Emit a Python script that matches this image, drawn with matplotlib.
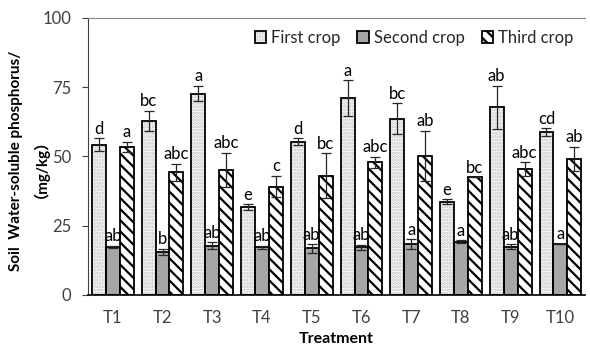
import matplotlib.pyplot as plt
import numpy as np

plt.rcParams['font.family'] = ['Lato', 'Noto Sans CJK SC', 'DejaVu Sans']
plt.rcParams['hatch.linewidth'] = 1.6

# データ
treatments = ['T1', 'T2', 'T3', 'T4', 'T5', 'T6', 'T7', 'T8', 'T9', 'T10']
first = [54.2, 62.8, 72.7, 31.7, 55.3, 71.0, 63.7, 33.7, 67.7, 58.7]
first_err = [2.4, 3.6, 2.8, 1.0, 1.2, 6.5, 5.5, 0.8, 7.8, 1.4]
second = [17.4, 15.6, 17.8, 17.2, 16.8, 17.2, 18.3, 19.2, 17.4, 18.4]
second_err = [0.3, 1.0, 1.2, 0.6, 1.5, 0.8, 1.8, 0.5, 0.9, 0.1]
third = [53.5, 44.3, 45.1, 39.1, 43.1, 47.9, 50.3, 42.5, 45.5, 49.1]
third_err = [1.8, 3.0, 6.3, 3.9, 8.0, 2.0, 9.0, 0.0, 2.4, 4.3]

first_sig = ['d', 'bc', 'a', 'e', 'd', 'a', 'bc', 'e', 'ab', 'cd']
second_sig = ['ab', 'b', 'ab', 'ab', 'ab', 'ab', 'a', 'a', 'ab', 'a']
third_sig = ['a', 'abc', 'abc', 'c', 'bc', 'abc', 'ab', 'bc', 'abc', 'ab']

fig = plt.figure(figsize=(5.9, 3.45), dpi=100)
ax = fig.add_axes([0.149, 0.145, 0.843, 0.803])

x = np.arange(len(treatments))
w = 0.28
txt = '#404040'

# First crop: 薄い点描 + 黒枠
dots = ax.bar(x - w, first, w, color='white', edgecolor='#c4c4c4',
              linewidth=0, hatch='.....', zorder=2)
b1 = ax.bar(x - w, first, w, fill=False, edgecolor='black', linewidth=1.3,
            zorder=2.1)
b2 = ax.bar(x, second, w, color='#a6a6a6', edgecolor='black', linewidth=1.3,
            zorder=2)
b3 = ax.bar(x + w, third, w, color='white', edgecolor='black', linewidth=1.3,
            hatch='\\\\\\', zorder=2)

for off, vals, errs, sigs in [(-w, first, first_err, first_sig),
                              (0, second, second_err, second_sig),
                              (w, third, third_err, third_sig)]:
    ax.errorbar(x + off, vals, yerr=errs, fmt='none', ecolor='#262626',
                elinewidth=0.9, capsize=3.5, capthick=0.9, zorder=3)
    for xi, v, e, s in zip(x + off, vals, errs, sigs):
        ax.text(xi, v + e + 0.6, s, ha='center', va='bottom', fontsize=12,
                color='black', zorder=4)

ax.set_xlim(-0.5, len(x) - 0.5)
ax.set_ylim(0, 100)
ax.set_yticks([0, 25, 50, 75, 100])
ax.set_xticks(x)
ax.set_xticklabels(treatments)
ax.tick_params(axis='x', length=0, pad=11, labelsize=12, labelcolor=txt)
ax.tick_params(axis='y', length=4, width=0.8, pad=8, labelsize=12,
               labelcolor=txt, color='#404040')

ax.spines['right'].set_visible(False)
ax.spines['top'].set_color('#868686')
ax.spines['left'].set_color('#404040')
ax.spines['bottom'].set_color('black')
ax.spines['bottom'].set_linewidth(1.2)

ax.set_xlabel('Treatment', fontsize=11.5, fontweight='bold', labelpad=4)
ax.set_ylabel('Soil  Water-soluble phosphorus/\n（mg/kg）', fontsize=11,
              fontweight='bold', linespacing=1.15)
ax.yaxis.set_label_coords(-0.095, 0.485)

leg = ax.legend([(dots[0], b1[0]), b2[0], b3[0]],
                ['First crop', 'Second crop', 'Third crop'],
                loc='upper right', ncol=3, frameon=False, fontsize=12,
                bbox_to_anchor=(1.0, 1.0), handlelength=0.7, handleheight=0.7,
                handletextpad=0.3, columnspacing=1.0, borderaxespad=0.3)
for t in leg.get_texts():
    t.set_color('#262626')

plt.savefig('out.png', dpi=100)
